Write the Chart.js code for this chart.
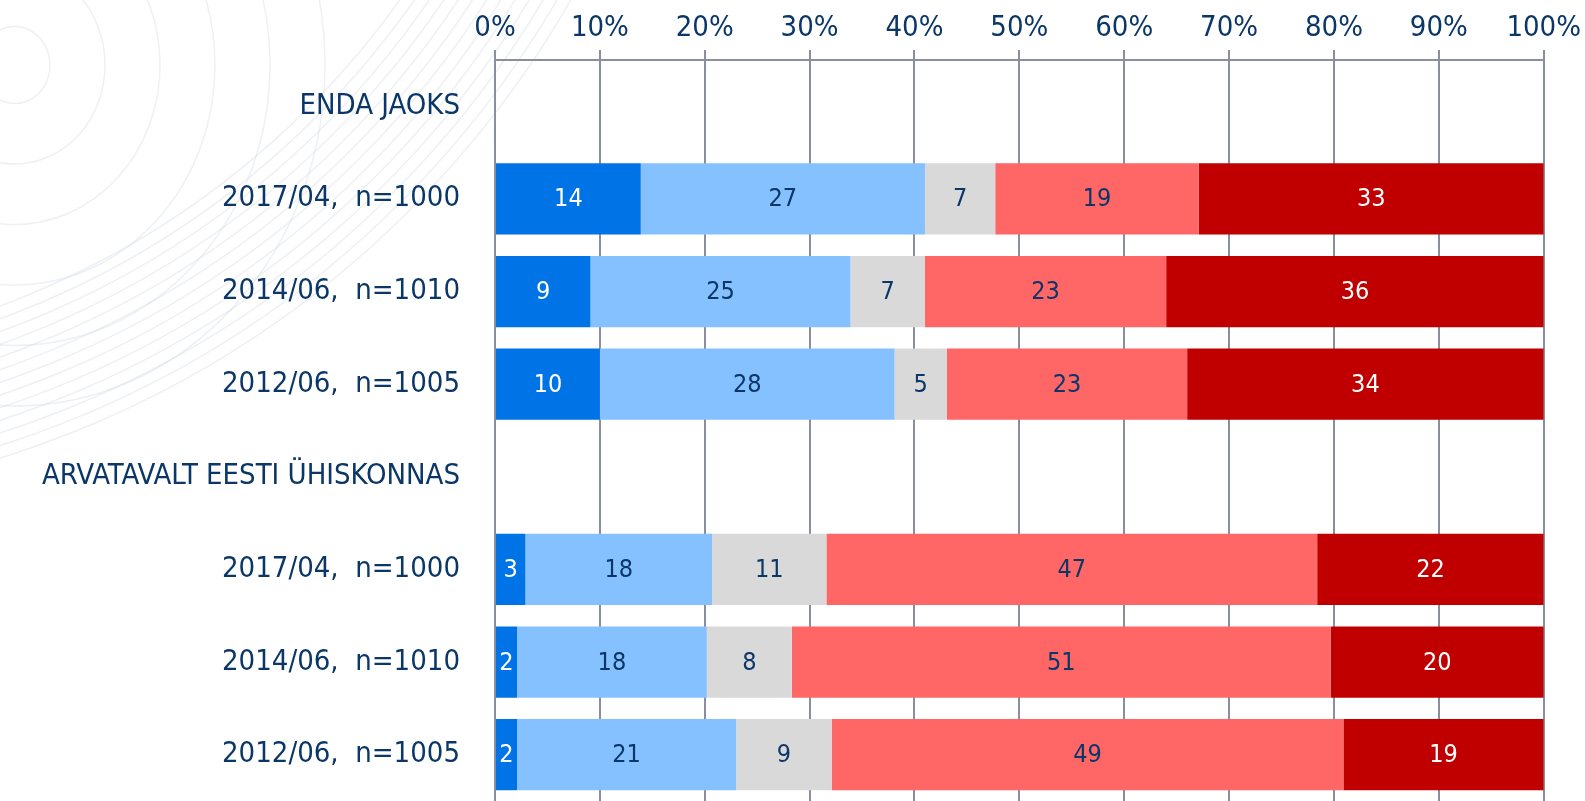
<!DOCTYPE html>
<html>
<head>
<meta charset="utf-8">
<script src="https://cdn.jsdelivr.net/npm/chart.js@4"></script>
<style>
    html, body { margin: 0; padding: 0; background: #fff; overflow: hidden; }
    canvas { display: block; }
</style>
</head>
<body>
<canvas id="chart" width="1585" height="801"></canvas>
<script>
// rows top to bottom; header rows carry no data
const categories = [
    "ENDA JAOKS",
    "2017/04,  n=1000",
    "2014/06,  n=1010",
    "2012/06,  n=1005",
    "ARVATAVALT EESTI ÜHISKONNAS",
    "2017/04,  n=1000",
    "2014/06,  n=1010",
    "2012/06,  n=1005",
];

const seriesA = [null, 13.9, 9.1, 10.0, null, 2.9, 2.1, 2.1];
const seriesB = [null, 27.1, 24.8, 28.1, null, 17.8, 18.1, 20.9];
const seriesC = [null, 6.7, 7.1, 5.0, null, 10.9, 8.1, 9.1];
const seriesD = [null, 19.4, 23.0, 22.9, null, 46.8, 51.4, 48.8];
const seriesE = [null, 32.9, 36.0, 34.0, null, 21.6, 20.3, 19.1];

const tickValues = [0, 10, 20, 30, 40, 50, 60, 70, 80, 90, 100];

const NAVY = "#0a3668";
const FONT = "'DejaVu Sans Condensed', 'DejaVu Sans', sans-serif";

const series = [
    { data: seriesA, color: "#0073e6", text: "#ffffff" },
    { data: seriesB, color: "#85c1ff", text: NAVY },
    { data: seriesC, color: "#d9d9d9", text: NAVY },
    { data: seriesD, color: "#ff6666", text: NAVY },
    { data: seriesE, color: "#c00000", text: "#ffffff" },
];

// faint globe watermark behind the labels, top left
const watermark = {
    id: "watermark",
    beforeDraw(chart) {
        const ctx = chart.ctx;
        ctx.save();
        ctx.strokeStyle = "rgba(214, 221, 231, 0.45)";
        ctx.lineWidth = 1.5;
        for (let r = 35; r <= 320; r += 55) {
            ctx.beginPath();
            ctx.ellipse(15, 65, r, r * 1.1, 0, 0, 2 * Math.PI);
            ctx.stroke();
        }
        for (let r = 860; r <= 1010; r += 12) {
            ctx.beginPath();
            ctx.arc(-300, -500, r, 0, Math.PI / 2);
            ctx.stroke();
        }
        ctx.restore();
    },
};

const barLabels = {
    id: "barLabels",
    afterDatasetsDraw(chart) {
        const ctx = chart.ctx;
        ctx.save();
        ctx.font = `25px ${FONT}`;
        ctx.textAlign = "center";
        ctx.textBaseline = "middle";
        chart.data.datasets.forEach((ds, i) => {
            const meta = chart.getDatasetMeta(i);
            meta.data.forEach((bar, j) => {
                const v = ds.data[j];
                if (v == null) return;
                ctx.fillStyle = series[i].text;
                ctx.fillText(String(Math.round(v)), (bar.x + bar.base) / 2, bar.y + 1);
            });
        });
        ctx.restore();
    },
};

new Chart(document.getElementById("chart"), {
    type: "bar",
    data: {
        labels: categories,
        datasets: series.map((s) => ({
            data: s.data,
            backgroundColor: s.color,
            borderWidth: 0,
            barPercentage: 0.77,
            categoryPercentage: 1,
        })),
    },
    options: {
        responsive: false,
        indexAxis: "y",
        animation: false,
        // the last row runs slightly past the bottom edge in the original
        layout: { padding: { top: 0, right: 40, bottom: -4, left: 0 } },
        plugins: { legend: { display: false }, tooltip: { enabled: false } },
        scales: {
            x: {
                position: "top",
                stacked: true,
                min: 0,
                max: 100,
                afterBuildTicks: (scale) => {
                    scale.ticks = tickValues.map((v) => ({ value: v }));
                },
                afterFit: (scale) => { scale.height = 60; },
                ticks: {
                    color: NAVY,
                    font: { family: FONT, size: 29 },
                    padding: 4,
                    callback: (v) => v + "%",
                },
                grid: { color: "#8a8e9f", lineWidth: 2, tickLength: 10 },
                border: { color: "#8a8e9f", width: 2 },
            },
            y: {
                stacked: true,
                afterFit: (scale) => {
                    scale.width = 495;
                    // labels sit inside their rows, no extra room needed above/below
                    scale.paddingTop = 0;
                    scale.paddingBottom = 0;
                },
                ticks: {
                    color: NAVY,
                    font: { family: FONT, size: 29 },
                    padding: 27,
                },
                grid: { display: false },
                border: { color: "#8a8e9f", width: 2 },
            },
        },
    },
    plugins: [watermark, barLabels],
});
</script>
</body>
</html>
